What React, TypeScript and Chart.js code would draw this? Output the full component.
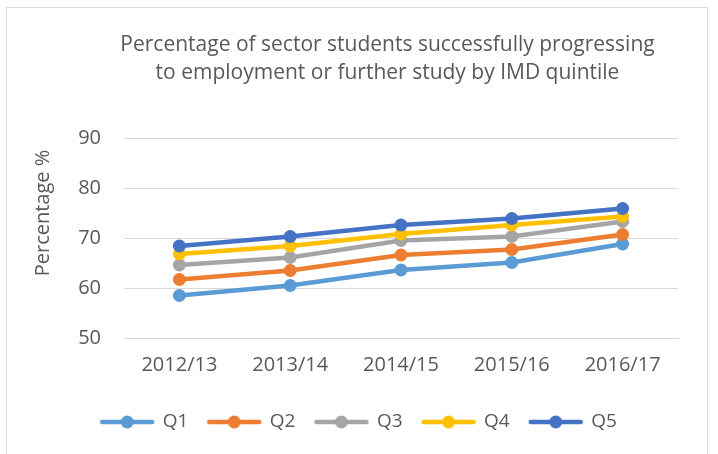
import React, { useEffect, useRef } from "react";
import { Chart, registerables } from "chart.js";

Chart.register(...registerables);

const categories = ["2012/13", "2013/14", "2014/15", "2015/16", "2016/17"];
const seriesNames = ["Q1", "Q2", "Q3", "Q4", "Q5"];
const q1 = [58.5, 60.5, 63.6, 65.1, 68.8];
const q2 = [61.7, 63.5, 66.6, 67.7, 70.7];
const q3 = [64.6, 66.1, 69.5, 70.3, 73.3];
const q4 = [66.8, 68.4, 70.8, 72.6, 74.3];
const q5 = [68.4, 70.3, 72.6, 73.9, 75.9];
const seriesColors = ["#5B9BD5", "#ED7D31", "#A5A5A5", "#FFC000", "#4472C4"];
const titleLines = [
  "Percentage of sector students successfully progressing",
  "to employment or further study by IMD quintile",
];
const yTitle = "Percentage %";

const FONT = "'Open Sans', sans-serif";
const TEXT = "#595959";

function makeLegendSymbol(color: string) {
  const c = document.createElement("canvas");
  c.width = 56;
  c.height = 14;
  const ctx = c.getContext("2d")!;
  ctx.strokeStyle = color;
  ctx.lineWidth = 4.5;
  ctx.lineCap = "round";
  ctx.beginPath();
  ctx.moveTo(3, 7);
  ctx.lineTo(53, 7);
  ctx.stroke();
  ctx.fillStyle = color;
  ctx.beginPath();
  ctx.arc(28, 7, 6.5, 0, Math.PI * 2);
  ctx.fill();
  return c;
}

const textPlugin = {
  id: "customText",
  afterDraw(chart: any) {
    const ctx = chart.ctx;
    ctx.save();
    ctx.fillStyle = TEXT;
    ctx.textAlign = "center";
    ctx.textBaseline = "middle";
    ctx.font = `21px ${FONT}`;
    ctx.fillText(titleLines[0], 387.5, 45);
    ctx.fillText(titleLines[1], 387.5, 73);
    ctx.translate(43, 213);
    ctx.rotate(-Math.PI / 2);
    ctx.font = `20px ${FONT}`;
    ctx.fillText(yTitle, 0, 0);
    ctx.restore();
  },
};

export default function App() {
  const ref = useRef<HTMLCanvasElement>(null);

  useEffect(() => {
    let chart: Chart | null = null;
    let cancelled = false;
    const build = () => {
      if (cancelled || !ref.current) return;
      const all = [q1, q2, q3, q4, q5];
      const symbols = seriesColors.map(makeLegendSymbol);
      chart = new Chart(ref.current, {
        type: "line",
        data: {
          labels: categories,
          datasets: all.map((d, i) => ({
            label: seriesNames[i],
            data: d,
            borderColor: seriesColors[i],
            backgroundColor: seriesColors[i],
            pointBackgroundColor: seriesColors[i],
            pointBorderColor: seriesColors[i],
            borderWidth: 4.5,
            pointRadius: 6.5,
            pointBorderWidth: 0,
            tension: 0,
            order: 5 - i,
          })),
        },
        options: {
          animation: false,
          responsive: false,
          devicePixelRatio: 1,
          layout: { padding: { left: 40, right: 40, top: 138, bottom: 12.5 } },
          scales: {
            x: {
              offset: true,
              grid: { display: false, drawTicks: false },
              border: { display: true, color: "#D9D9D9", width: 1 },
              ticks: { color: TEXT, font: { family: FONT, size: 20 }, padding: 15, maxRotation: 0 },
              afterFit: (s: any) => {
                s.height = 54.5;
              },
            },
            y: {
              min: 50,
              max: 90,
              grid: { color: "#D9D9D9", lineWidth: 1, drawTicks: false },
              border: { display: false },
              ticks: { stepSize: 10, color: TEXT, font: { family: FONT, size: 20 }, padding: 23 },
              afterFit: (s: any) => {
                s.width = 84;
              },
            },
          },
          plugins: {
            title: { display: false },
            tooltip: { enabled: false },
            legend: {
              position: "bottom",
              reverse: true,
              labels: {
                usePointStyle: true,
                pointStyleWidth: 52,
                boxHeight: 14,
                padding: 20,
                color: TEXT,
                font: { family: FONT, size: 19 },
                generateLabels: (ch: any) => {
                  const items = Chart.defaults.plugins.legend.labels.generateLabels(ch);
                  return items.map((it: any) => ({
                    ...it,
                    pointStyle: symbols[it.datasetIndex],
                    fontColor: TEXT,
                  }));
                },
              },
            },
          },
        },
        plugins: [textPlugin],
      } as any);
    };
    const fonts: any = (document as any).fonts;
    if (fonts && fonts.load) {
      Promise.all([fonts.load(`19px 'Open Sans'`), fonts.load(`21px 'Open Sans'`)])
        .catch(() => {})
        .then(build);
    } else build();
    return () => {
      cancelled = true;
      if (chart) chart.destroy();
    };
  }, []);

  return (
    <div style={{ position: "absolute", left: 0, top: 0, width: 718, height: 454, overflow: "hidden", background: "#fff" }}>
      <div
        style={{
          position: "absolute",
          left: 6,
          top: 7,
          width: 700,
          height: 470,
          border: "1px solid #D9D9D9",
        }}
      />
      <canvas ref={ref} width={718} height={454} style={{ position: "absolute", left: 0, top: 0, width: 718, height: 454 }} />
    </div>
  );
}
